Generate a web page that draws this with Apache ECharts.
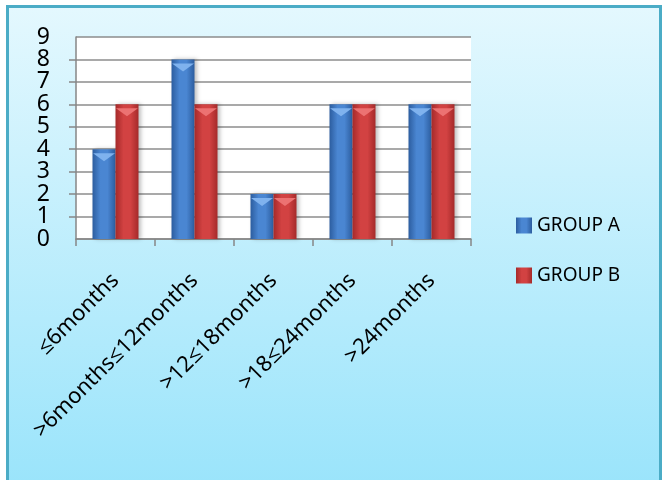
<!DOCTYPE html>
<html>
<head>
<meta charset="utf-8">
<script src="https://cdn.jsdelivr.net/npm/echarts@6/dist/echarts.min.js"></script>
<style>
  html, body { margin: 0; padding: 0; background: #fff; }
  #main { width: 664px; height: 480px; }
</style>
</head>
<body>
<div id="main"></div>
<script>
// 数据
const categories = ['≤6months', '>6months≤12months', '>12≤18months', '>18≤24months', '>24months']
const groupA = [4, 8, 2, 6, 6]
const groupB = [6, 6, 2, 6, 6]
const yMin = 0
const yMax = 9

const font = 'Noto Sans, Open Sans, sans-serif'

function barGrad (edge, mid) {
  return new echarts.graphic.LinearGradient(0, 0, 1, 0, [
    { offset: 0, color: edge },
    { offset: 0.35, color: mid },
    { offset: 0.65, color: mid },
    { offset: 1, color: edge }
  ])
}
const blue = barGrad('#2c5d9f', '#4a86d2')
const red = barGrad('#a52a2a', '#d24242')

const yLabel = {
  margin: 26,
  fontFamily: font,
  fontSize: 23,
  color: '#000'
}

const myChart = echarts.init(document.getElementById('main'))
const option = {
  animation: false,
  backgroundColor: '#fff',
  graphic: [
    {
      type: 'rect',
      z: -10,
      shape: { x: 7.5, y: 6.5, width: 653, height: 480 },
      style: {
        fill: new echarts.graphic.LinearGradient(0, 0, 0, 1, [
          { offset: 0, color: '#e4f8fe' },
          { offset: 1, color: '#9ae4fb' }
        ]),
        stroke: '#4bacc6',
        lineWidth: 3
      }
    }
  ],
  grid: {
    left: 76,
    top: 37,
    right: 193,
    bottom: 241,
    show: true,
    backgroundColor: '#ffffff',
    borderWidth: 0
  },
  legend: {
    orient: 'vertical',
    left: 511,
    top: 211,
    itemWidth: 16,
    itemHeight: 16,
    itemGap: 31,
    icon: 'rect',
    textStyle: { fontFamily: font, fontSize: 19, color: '#000' },
    data: ['GROUP A', 'GROUP B']
  },
  xAxis: {
    type: 'category',
    data: categories,
    axisLine: { lineStyle: { color: '#868686', width: 1.5 } },
    axisTick: { show: true, length: 7, lineStyle: { color: '#868686', width: 1.5 } },
    axisLabel: {
      rotate: 45,
      margin: 38,
      interval: 0,
      fontFamily: font,
      fontSize: 22,
      color: '#000'
    }
  },
  yAxis: [
    {
      // 1..8 (ECharts 自动隐藏首尾)
      type: 'value',
      position: 'left',
      min: yMin,
      max: yMax,
      interval: 1,
      axisLine: { show: true, lineStyle: { color: '#868686', width: 1.5 } },
      axisTick: { show: true, length: 7, lineStyle: { color: '#868686', width: 1.5 } },
      splitLine: { lineStyle: { color: '#8c8c8c', width: 1.5 } },
      axisLabel: Object.assign({ showMinLabel: false, showMaxLabel: false }, yLabel)
    },
    {
      // 0 和 9
      type: 'value',
      position: 'left',
      min: yMin,
      max: yMax,
      interval: yMax - yMin,
      axisLine: { show: false },
      axisTick: { show: false },
      splitLine: { show: false },
      axisLabel: Object.assign({ showMinLabel: true, showMaxLabel: true }, yLabel)
    }
  ],
  series: [
    {
      name: 'GROUP A',
      type: 'bar',
      data: groupA,
      barWidth: 23,
      barGap: '0%',
      itemStyle: { color: blue, shadowColor: 'rgba(0,0,0,0.25)', shadowBlur: 4, shadowOffsetX: 2 }
    },
    {
      name: 'GROUP B',
      type: 'bar',
      data: groupB,
      barWidth: 23,
      itemStyle: { color: red, shadowColor: 'rgba(0,0,0,0.25)', shadowBlur: 4, shadowOffsetX: 2 }
    },
    {
      name: 'capA',
      type: 'pictorialBar',
      data: groupA,
      symbol: 'triangle',
      symbolRotate: 180,
      symbolSize: [22, 8],
      symbolPosition: 'end',
      symbolOffset: ['-52%', '50%'],
      itemStyle: { color: '#7fb2ee' },
      z: 5,
      silent: true
    },
    {
      name: 'capB',
      type: 'pictorialBar',
      data: groupB,
      symbol: 'triangle',
      symbolRotate: 180,
      symbolSize: [22, 8],
      symbolPosition: 'end',
      symbolOffset: ['52%', '50%'],
      itemStyle: { color: '#ec7272' },
      z: 5,
      silent: true
    }
  ]
}
myChart.setOption(option)
</script>
</body>
</html>
